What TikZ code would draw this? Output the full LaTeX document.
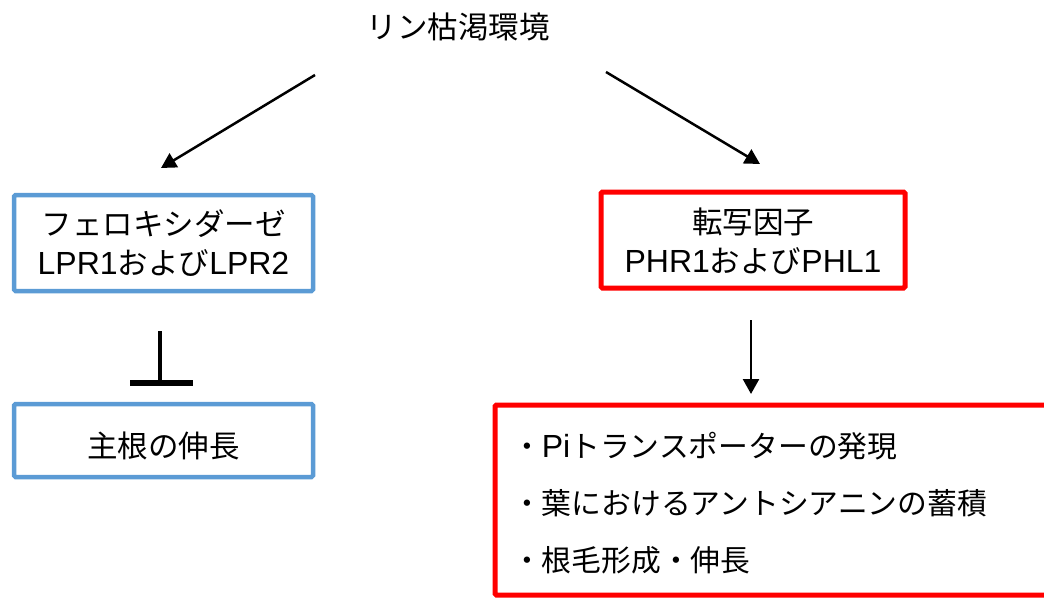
\documentclass[tikz,border=0pt]{standalone}
\usepackage{fontspec}
\setmainfont{Liberation Sans}
\newfontfamily\cjk{Noto Sans CJK JP}
\usetikzlibrary{arrows.meta}
\definecolor{boxblue}{RGB}{91,155,213}
\definecolor{boxred}{RGB}{255,0,0}
\newcommand{\lat}[1]{{\rmfamily\fontsize{32}{39}\selectfont #1}}
\begin{document}
\begin{tikzpicture}[x=1pt,y=-1pt,
  every node/.style={inner sep=0pt, outer sep=0pt},
  txt/.style={font=\cjk\fontsize{30.5}{39}\selectfont, text=black},
  listtxt/.style={font=\cjk\fontsize{29.8}{39}\selectfont, text=black, anchor=west},
  bluebox/.style={draw=boxblue, line width=4.5pt, rounded corners=1.5pt, align=center, txt},
  redbox/.style={draw=boxred, line width=5pt, rounded corners=1.5pt, align=center, txt},
  conn/.style={draw=black, line width=2.5pt, -{Triangle[length=15pt,width=16pt]}},
  inh/.style={draw=black, line width=3.5pt},
  bar/.style={draw=black, line width=6pt}
]
\useasboundingbox (0,0) rectangle (1044,599);
\clip (0,0) rectangle (1044,599);

\node[txt] (title) at (458,27) {リン枯渇環境};

\node[bluebox, minimum width=299pt, minimum height=96pt] (lpr) at (163.5,243) {};
\node[txt, align=center] (lprtxt) at (163.5,243) {フェロキシダーゼ\\\lat{LPR1}および\lat{LPR2}};

\node[redbox, minimum width=304pt, minimum height=96pt] (phr) at (753,240) {};
\node[txt, align=center] (phrtxt) at (753,241) {転写因子\\\lat{PHR1}および\lat{PHL1}};

\node[bluebox, minimum width=299pt, minimum height=73pt] (root) at (163.5,440.5) {};
\node[txt] (roottxt) at (163.5,446) {主根の伸長};

\node[redbox, minimum width=570pt, minimum height=190pt] (resp) at (780,500) {};
\node[listtxt] (r1) at (512,446) {・\lat{Pi}トランスポーターの発現};
\node[listtxt] (r2) at (512,503) {・葉におけるアントシアニンの蓄積};
\node[listtxt] (r3) at (512,560) {・根毛形成・伸長};

\coordinate (a1s) at (315,75);
\coordinate (a1e) at (161,168);
\coordinate (a2s) at (606,72);
\coordinate (a2e) at (760,164);
\coordinate (a3s) at (751,320);
\coordinate (a3e) at (751,394);
\coordinate (i1s) at (160,331);
\coordinate (i1e) at (160,383);
\coordinate (b1) at (130,383);
\coordinate (b2) at (193,383);

\draw[conn] (a1s) -- (a1e);
\draw[conn] (a2s) -- (a2e);
\draw[conn] (a3s) -- (a3e);
\draw[inh] (i1s) -- (i1e);
\draw[bar] (b1) -- (b2);
\end{tikzpicture}
\end{document}
